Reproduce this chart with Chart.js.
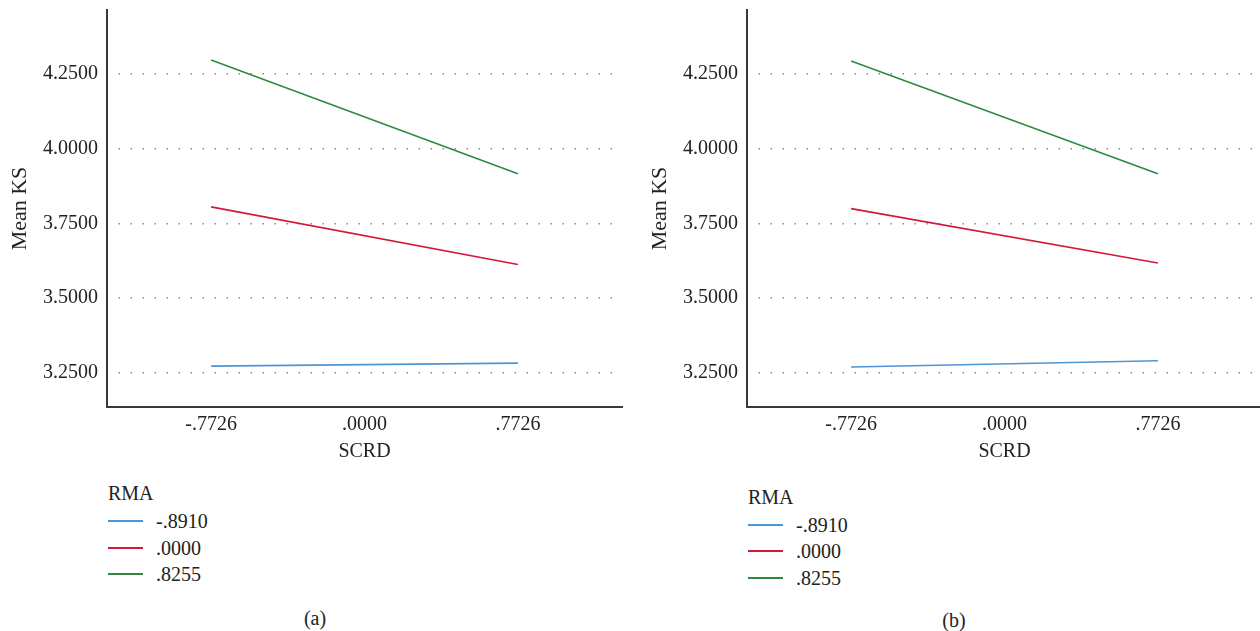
<!DOCTYPE html>
<html>
<head>
<meta charset="utf-8">
<script src="https://cdn.jsdelivr.net/npm/chart.js@4.4.1/dist/chart.umd.min.js"></script>
<style>
  html, body { margin: 0; padding: 0; background: #fff; overflow: hidden; width: 1260px; height: 631px; }
  .panel { position: absolute; top: 0; width: 630px; height: 631px; }
  .cwrap { position: absolute; left: 0; top: 0; width: 630px; height: 470px; }
  .legend { position: absolute; font-family: 'Liberation Serif', 'DejaVu Serif', serif; font-size: 20px; color: #222; }
  .legend .title { position: absolute; left: 0; top: 0; white-space: nowrap; line-height: 24px; }
  .legend .item { position: absolute; left: 0; height: 24px; white-space: nowrap; }
  .legend .swatch { position: absolute; left: 0; top: 11px; width: 35px; height: 2px; }
  .legend .lbl { position: absolute; left: 48px; top: 0; line-height: 24px; }
  .caption { position: absolute; font-family: 'Liberation Serif', 'DejaVu Serif', serif; font-size: 20px; color: #222; transform: translateX(-50%); line-height: 24px; }
</style>
</head>
<body>
<div class="panel" id="pa" style="left:0px">
  <div class="cwrap"><canvas id="ca"></canvas></div>
</div>
<div class="panel" id="pb" style="left:640px">
  <div class="cwrap"><canvas id="cb"></canvas></div>
</div>
<script>
// ---- data ----
const xPoints = [-0.7726, 0.7726];
const xTickValues = [-0.7726, 0.0, 0.7726];
const xTickLabels = ['-.7726', '.0000', '.7726'];
const yTickValues = [3.25, 3.5, 3.75, 4.0, 4.25];
const yTickLabels = ['3.2500', '3.5000', '3.7500', '4.0000', '4.2500'];
const legendTitle = 'RMA';
const seriesNames = ['-.8910', '.0000', '.8255'];
const seriesColors = ['#4d94d6', '#d4173a', '#2f8a3f'];
const panelA_low = [3.271, 3.281];
const panelA_mid = [3.805, 3.612];
const panelA_high = [4.297, 3.916];
const panelB_low = [3.268, 3.289];
const panelB_mid = [3.799, 3.617];
const panelB_high = [4.294, 3.916];
const xTitle = 'SCRD';
const yTitle = 'Mean KS';
const captions = ['(a)', '(b)'];

const FONT = "'Liberation Serif', 'DejaVu Serif', serif";
const AXIS_COLOR = '#3a3a3a';

function makeChart(canvasId, seriesValues) {
  const datasets = seriesValues.map((vals, i) => ({
    label: seriesNames[i],
    data: xPoints.map((x, j) => ({ x: x, y: vals[j] })),
    borderColor: seriesColors[i],
    backgroundColor: seriesColors[i],
    borderWidth: 1.6,
    pointRadius: 0,
    fill: false,
    tension: 0
  }));
  return new Chart(document.getElementById(canvasId), {
    type: 'line',
    data: { datasets },
    options: {
      responsive: true,
      maintainAspectRatio: false,
      animation: false,
      layout: { padding: { top: 10, right: 8, left: 0, bottom: 0 } },
      plugins: { legend: { display: false }, tooltip: { enabled: false } },
      scales: {
        x: {
          type: 'linear',
          min: -1.297,
          max: 1.297,
          afterBuildTicks: (s) => { s.ticks = xTickValues.map(v => ({ value: v })); },
          afterFit: (s) => { s.height = 63; s.paddingLeft = 0; s.paddingRight = 0; },
          ticks: {
            padding: 6,
            font: { family: FONT, size: 20 },
            color: '#222',
            maxRotation: 0,
            autoSkip: false,
            callback: (v) => { const i = xTickValues.indexOf(v); return i >= 0 ? xTickLabels[i] : ''; }
          },
          grid: { display: false, drawTicks: false },
          border: { display: true, color: AXIS_COLOR, width: 2 },
          title: { display: true, text: xTitle, font: { family: FONT, size: 20 }, color: '#222', padding: { top: 0, bottom: 6 } }
        },
        y: {
          type: 'linear',
          min: 3.134,
          max: 4.465,
          afterBuildTicks: (s) => { s.ticks = yTickValues.map(v => ({ value: v })); },
          afterFit: (s) => { s.width = 107; s.paddingTop = 0; s.paddingBottom = 0; },
          ticks: {
            padding: 9,
            font: { family: FONT, size: 20 },
            color: '#222',
            autoSkip: false,
            callback: (v) => { const i = yTickValues.indexOf(v); return i >= 0 ? yTickLabels[i] : ''; }
          },
          grid: { display: true, drawTicks: false, color: '#8a8a8a', lineWidth: 1.5 },
          border: { display: true, color: AXIS_COLOR, width: 2, dash: [1.5, 10.5], dashOffset: -10.5 },
          title: { display: true, text: yTitle, font: { family: FONT, size: 22 }, color: '#222', padding: { top: 7, bottom: 0 } }
        }
      }
    }
  });
}

function makeLegend(panelId, left, top, rowGap, labelLeft) {
  const panel = document.getElementById(panelId);
  const lg = document.createElement('div');
  lg.className = 'legend';
  lg.style.left = left + 'px';
  lg.style.top = top + 'px';
  const t = document.createElement('div');
  t.className = 'title';
  t.textContent = legendTitle;
  lg.appendChild(t);
  seriesNames.forEach((name, i) => {
    const it = document.createElement('div');
    it.className = 'item';
    it.style.top = (28 + i * rowGap) + 'px';
    const sw = document.createElement('div');
    sw.className = 'swatch';
    sw.style.background = seriesColors[i];
    const lb = document.createElement('div');
    lb.className = 'lbl';
    lb.style.left = labelLeft + 'px';
    lb.textContent = name;
    it.appendChild(sw);
    it.appendChild(lb);
    lg.appendChild(it);
  });
  panel.appendChild(lg);
}

function makeCaption(panelId, text, cx, top) {
  const c = document.createElement('div');
  c.className = 'caption';
  c.style.left = cx + 'px';
  c.style.top = top + 'px';
  c.textContent = text;
  document.getElementById(panelId).appendChild(c);
}

makeChart('ca', [panelA_low, panelA_mid, panelA_high]);
makeChart('cb', [panelB_low, panelB_mid, panelB_high]);
makeLegend('pa', 108, 481, 26.7, 48);
makeLegend('pb', 108, 485, 26.3, 48);
makeCaption('pa', captions[0], 315, 606);
makeCaption('pb', captions[1], 314, 608);
</script>
</body>
</html>
